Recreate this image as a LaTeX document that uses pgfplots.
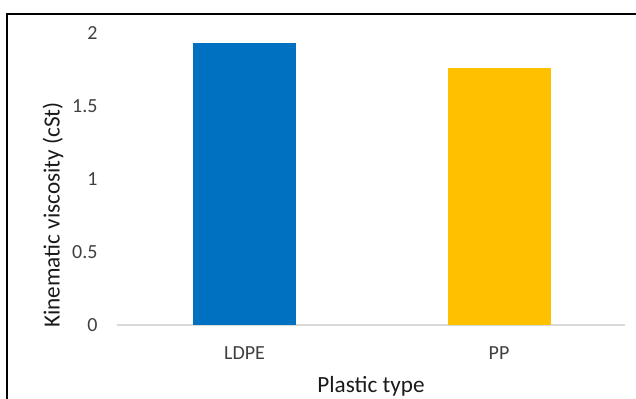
\documentclass[border=0pt]{standalone}
\usepackage{pgfplots}
\pgfplotsset{compat=1.18}
\usepackage{fontspec}
\setmainfont{Carlito}
\definecolor{barblue}{HTML}{0070C0}
\definecolor{bargold}{HTML}{FFC000}
\definecolor{axisgray}{HTML}{D9D9D9}
\definecolor{tickgray}{HTML}{404040}
\definecolor{labelgray}{HTML}{1A1A1A}
\begin{document}
\begin{tikzpicture}
\begin{axis}[
  name=A,
  scale only axis, width=254pt, height=146pt,
  xmin=-0.501, xmax=1.495, ymin=0, ymax=2,
  xtick={0,1}, xticklabels={LDPE,PP},
  ytick={0,0.5,1,1.5,2},
  yticklabels={0,0.5,1,1.5,2},
  axis x line*=bottom, axis y line*=left,
  x axis line style={axisgray,line width=0.8pt,-},
  y axis line style={draw=none},
  major tick length=0pt,
  tick style={draw=none},
  ybar, bar width=51.5pt,
  ticklabel style={font=\fontsize{10}{12}\selectfont, text=tickgray},
  yticklabel style={anchor=east, xshift=-6.2pt},
  xticklabel style={anchor=base, yshift=-17.5pt},
  xlabel={Plastic type}, ylabel={Kinematic viscosity (cSt)},
  label style={font=\fontsize{11.6}{14}\selectfont, text=labelgray},
  xlabel style={at={(axis description cs:0.5,0)}, anchor=base, yshift=-34pt},
  ylabel style={at={(axis description cs:0,0.377)}, anchor=center, yshift=32pt},
  clip=false,
]
\addplot[fill=barblue, draw=none, bar shift=0pt] coordinates {(0,1.93)};
\addplot[fill=bargold, draw=none, bar shift=0pt] coordinates {(1,1.76)};
\end{axis}
% chart frame, running past the right and bottom edges
\draw[line width=1pt,black]
  ([xshift=-54.75pt,yshift=-60pt]A.south west) |- ([xshift=30pt,yshift=9.5pt]A.north east);
\pgfresetboundingbox
\useasboundingbox ([xshift=-58.5pt,yshift=-37pt]A.south west) rectangle ([xshift=5.5pt,yshift=16.5pt]A.north east);
\end{tikzpicture}
\end{document}
